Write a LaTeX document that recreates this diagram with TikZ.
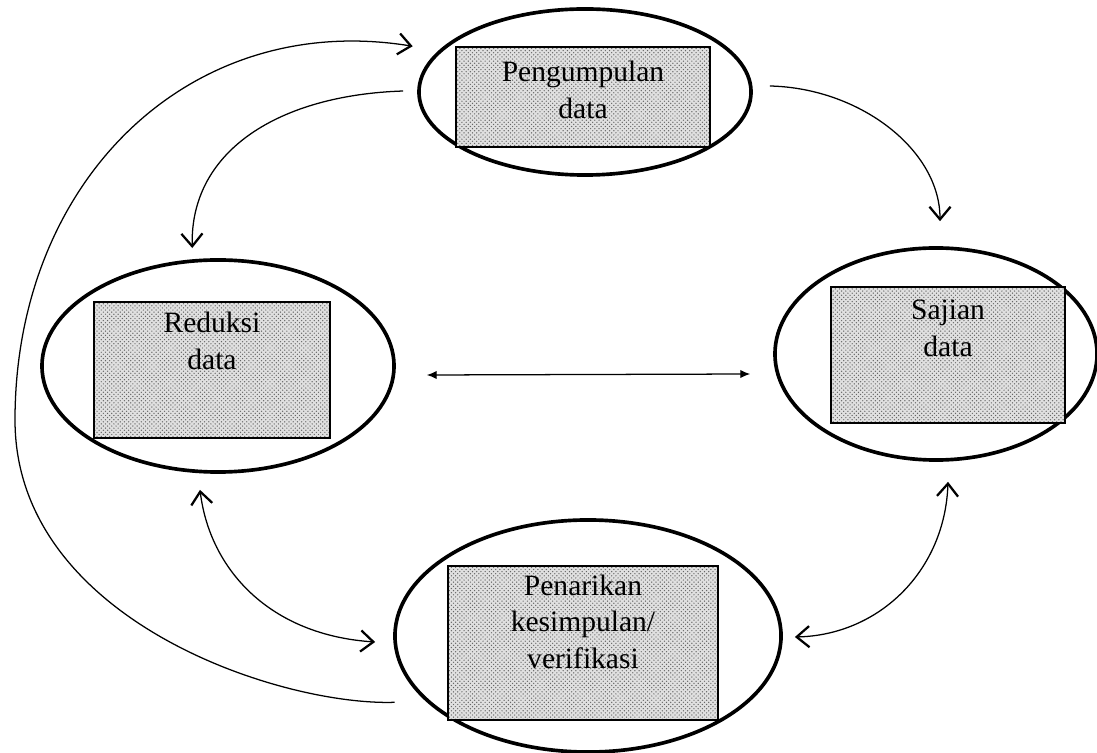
\documentclass[tikz,border=0pt]{standalone}
\usepackage{fontspec}
\setmainfont{Liberation Serif}
\usetikzlibrary{shapes.geometric,arrows.meta,patterns,positioning}

\begin{document}
\begin{tikzpicture}[x=0.025cm, y=-0.025cm, align=center]
            \tikzstyle{every node}+=[inner sep=0pt]
            \tikzstyle{stage}=[draw, ellipse, line width=2.6pt]
            \tikzstyle{dotbox}=[draw, rectangle, line width=1.4pt, preaction={fill=black!12}, pattern=crosshatch dots, pattern color=black!60]
            \tikzstyle{caption}=[font=\fontsize{21}{26}\selectfont]
            \tikzstyle{flow}=[line width=0.9pt, -{Straight Barb[length=9pt,width=15pt,line width=1.6pt]}]
            \tikzstyle{twoway}=[line width=0.9pt, {Straight Barb[length=9pt,width=15pt,line width=1.6pt]}-{Straight Barb[length=9pt,width=15pt,line width=1.6pt]}]
            \tikzstyle{sideways}=[line width=0.9pt, {Latex[length=7pt,width=6pt]}-{Latex[length=7pt,width=6pt]}]
            \useasboundingbox (0,0) rectangle (1097,753);
            % the four stages
            \node[stage, minimum width=8.3cm, minimum height=4.15cm] (pg) at (585,92) {};
            \node[dotbox, minimum width=6.33cm, minimum height=2.5cm] (pgbox) at (583,97) {};
            \node[caption, below=0.375cm of pgbox.north] (pgtxt) {Pengumpulan\\data};
            \node[stage, minimum width=8.8cm, minimum height=5.3cm] (rd) at (218,366) {};
            \node[dotbox, minimum width=5.88cm, minimum height=3.4cm] (rdbox) at (212,370) {};
            \node[caption, below=0.275cm of rdbox.north] (rdtxt) {Reduksi\\data};
            \node[stage, minimum width=8.05cm, minimum height=5.3cm] (sj) at (936,354) {};
            \node[dotbox, minimum width=5.83cm, minimum height=3.4cm] (sjbox) at (948,355) {};
            \node[caption, below=0.35cm of sjbox.north] (sjtxt) {Sajian\\data};
            \node[stage, minimum width=9.65cm, minimum height=5.8cm] (pk) at (588,636) {};
            \node[dotbox, minimum width=6.75cm, minimum height=3.83cm] (pkbox) at (583,643) {};
            \node[caption, below=0.225cm of pkbox.north] (pktxt) {Penarikan\\kesimpulan/\\verifikasi};
            % connectors
            \draw[flow] ([shift={(-24,8)}]pk.199) .. controls (280,706) and (15,620) .. (15,420)
                .. controls (15,180) and (190,10) .. ([shift={(-24,-6)}]pg.165);
            \draw[flow] ([shift={(-14,-1)}]pg.west) .. controls (280,95) and (190,150) .. ([shift={(-3,-11)}]rd.102);
            \draw[flow] ([shift={(17,-6)}]pg.east) .. controls (860,88) and (940,150) .. ([shift={(4,-25)}]sj.north);
            \draw[sideways] ([shift={(31,9)}]rd.east) -- ([shift={(-23,20)}]sj.west);
            \draw[twoway] ([shift={(-18,16)}]rd.south) .. controls (210,570) and (270,635) .. ([shift={(-18,6)}]pk.west);
            \draw[twoway] ([shift={(12,20)}]sj.south) .. controls (945,570) and (880,635) .. ([shift={(12,1)}]pk.east);
        \end{tikzpicture}
\end{document}
